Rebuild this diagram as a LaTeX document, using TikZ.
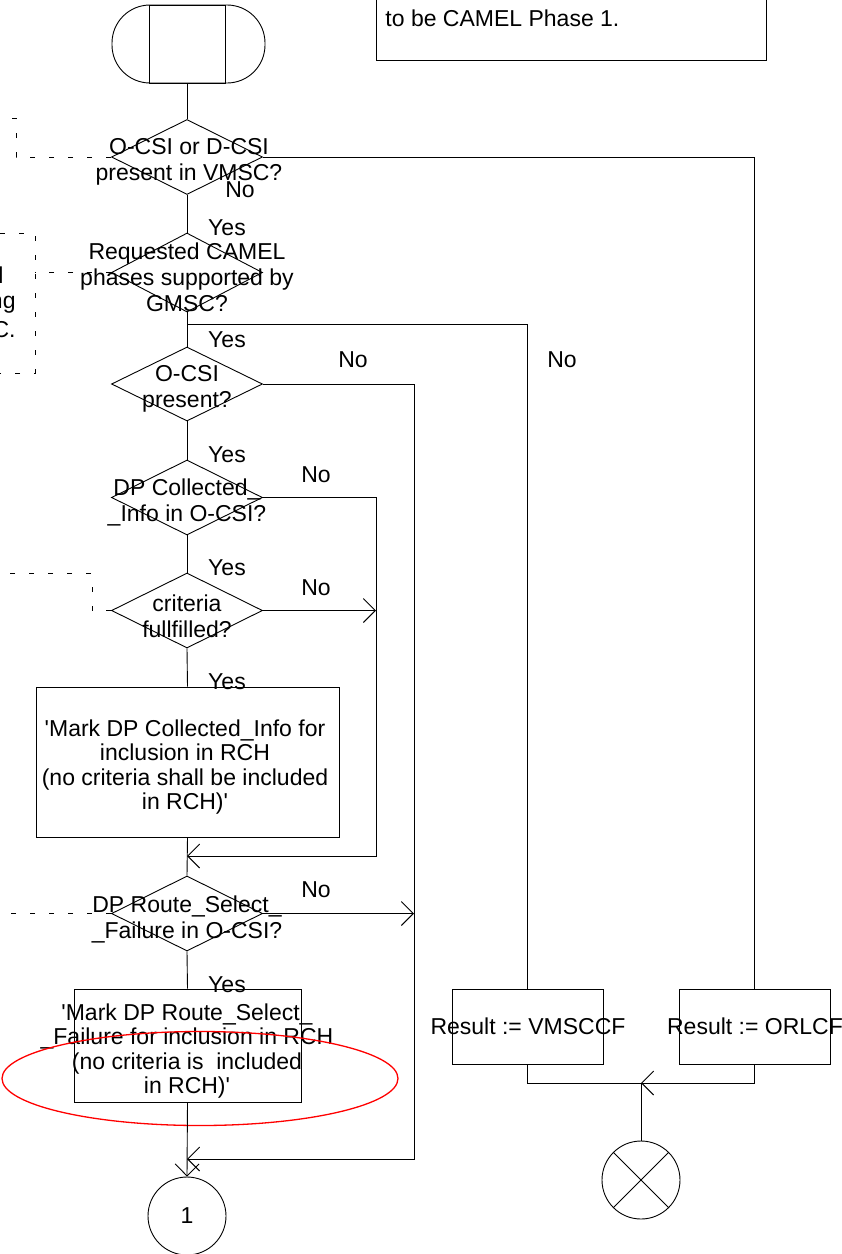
\documentclass[tikz,border=0pt]{standalone}
\usepackage{fontspec}
\setmainfont{Liberation Sans}[Ligatures=TeXOff]
\usetikzlibrary{arrows.meta,positioning,shapes.geometric}

\begin{document}
\begin{tikzpicture}[
  x=1pt,y=-1pt,
  >={Straight Barb[length=12pt,width=24pt]},
  font=\fontsize{23}{26}\selectfont,
  line width=0.9pt,
  decision/.style={draw, diamond, minimum width=151, minimum height=75, inner sep=0pt},
  qtext/.style={align=center, inner sep=0pt},
  task/.style={draw, rectangle, inner sep=0pt},
  btext/.style={align=center, inner sep=0pt, font=\fontsize{23}{24.5}\selectfont},
  conn/.style={draw, circle, minimum size=78, inner sep=0pt},
  yes/.style={anchor=base, inner sep=0pt},
  frag/.style={anchor=base east, inner sep=0pt},
  flow/.style={->},
  comment/.style={dash pattern=on 5pt off 14pt, line width=0.7pt}
]
\useasboundingbox (0,0) rectangle (842,1254);

% start symbol and the note at the top
\node[draw, rounded corners=38, minimum width=153, minimum height=78, inner sep=0pt] (startcap) at (188.5,44) {};
\node[task, minimum width=76, minimum height=78] (start) at (187,44) {};
\node[draw, minimum width=390, minimum height=90, inner sep=0pt] (note) at (571,15) {};
\node[anchor=base west, inner sep=0pt] (notet) at (385,26) {to be CAMEL Phase 1.};

% main column of decisions
\node[decision] (q1) at (187,157) {};
\node[qtext] (q1t) at (189,162) {O-CSI or D-CSI\\present in VMSC?};
\node[decision, minimum height=79] (q2) at (187,272.5) {};
\node[qtext] (q2t) at (187,277) {Requested CAMEL\\phases supported by\\GMSC?};
\node[decision, minimum height=74] (q3) at (187,384) {};
\node[qtext] (q3t) at (187,389) {O-CSI\\present?};
\node[decision] (q4) at (187,497.5) {};
\node[qtext] (q4t) at (187,502) {DP Collected\_\\\_Info in O-CSI?};
\node[decision] (q5) at (187,610.5) {};
\node[qtext] (q5t) at (187,616) {criteria\\fullfilled?};
\node[task, minimum width=303, minimum height=150] (mark1) at (187.5,762) {};
\node[btext] (mark1t) at (185,767) {'Mark DP Collected\_Info for\\inclusion in RCH\\(no criteria shall be included\\in RCH)'};
\node[decision] (q6) at (187,913.5) {};
\node[qtext] (q6t) at (187,919) {DP Route\_Select\_\\\_Failure in O-CSI?};
\node[task, minimum width=227, minimum height=113] (mark2) at (187.5,1045.5) {};
\node[btext] (mark2t) at (187,1051) {'Mark DP Route\_Select\_\\\_Failure for inclusion in RCH\\(no criteria is\ \ included\\in RCH)'};
\node[conn] (con1) at (187,1216) {1};
\node[draw=red, ellipse, minimum width=396, minimum height=94, line width=1.3pt, inner sep=0pt] (hl) at (200,1078.5) {};

% right hand results
\node[task, minimum width=151, minimum height=75] (vms) at (527.5,1026.5) {};
\node[btext] (vmst) at (528,1026) {Result := VMSCCF};
\node[task, minimum width=151, minimum height=75] (orl) at (754.5,1026.5) {};
\node[btext] (orlt) at (755,1026) {Result := ORLCF};
\node[conn] (stop) at (641,1180) {};
\draw (stop.north west) -- (stop.south east);
\draw (stop.north east) -- (stop.south west);

% branch labels
\node[yes] (y1) at (227,235) {Yes};
\node[yes] (y2) at (227,347) {Yes};
\node[yes] (y3) at (227,462) {Yes};
\node[yes] (y4) at (227,575) {Yes};
\node[yes] (y5) at (227,689) {Yes};
\node[yes] (y6) at (227,992) {Yes};
\node[yes] (n1) at (240,197) {No};
\node[yes] (n2) at (562,367) {No};
\node[yes] (n3) at (353,367) {No};
\node[yes] (n4) at (316,482) {No};
\node[yes] (n5) at (316,595) {No};
\node[yes] (n6) at (316,897) {No};

% junctions
\coordinate (j0) at (187,324);
\coordinate (j1) at (187,856);
\coordinate (j2) at (187,1159);
\coordinate (busA) at (376,856);
\coordinate (busB) at (414,1159);
\coordinate (j3) at (641,1083);

\draw (start.south) -- (q1.north);
\draw (q1.south) -- (q2.north);
\draw (q2.south) -- (q3.north);
\draw (q3.south) -- (q4.north);
\draw (q4.south) -- (q5.north);
\draw (q5.south) -- (mark1.north);
\draw (mark1.south) -- (q6.north);
\draw (q6.south) -- (mark2.north);
\draw[flow] (mark2.south) -- (con1.north);
\draw (q1.east) -| (orl.north);
\draw (j0) -| (vms.north);
\draw[flow] (q3.east) -| (busB) -- (j2);
\draw[flow] (q4.east) -| (busA) -- (j1);
\draw[flow] (q5.east) -- (q5.east -| busA);
\draw[flow] (q6.east) -- (q6.east -| busB);
\draw[flow] (orl.south) |- (j3);
\draw (vms.south) |- (j3) -- (stop.north);

% dashed comment links on the left
\draw[comment] (q1.west) -| ++(-95,-39) -- ++(-20,0);
\draw[comment] (q2.west) -- ++(-76.5,0);
\draw[comment] (0,233) -- (35,233) -- (35,373) -- (0,373);
\node[frag] (c1) at (4,283) {l};
\node[frag] (c2) at (16,308) {ng};
\node[frag] (c3) at (16,337) {C.};
\draw[comment] (q5.west) -| ++(-19,-37) -- ++(-95,0);
\draw[comment] (q6.west) -- ++(-112,0);
\end{tikzpicture}
\end{document}
